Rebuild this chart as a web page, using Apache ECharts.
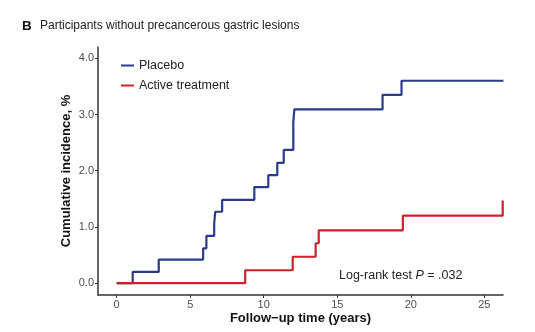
<!DOCTYPE html>
<html>
<head>
<meta charset="utf-8">
<script src="https://cdn.jsdelivr.net/npm/echarts@6/dist/echarts.min.js"></script>
<style>
html,body{margin:0;padding:0;background:#fff;}
#c{width:535px;height:332px;}
</style>
</head>
<body>
<div id="c"></div>
<script>
const seriesNames = ["Placebo", "Active treatment"];
const placeboTimes  = [0, 1.09, 2.86, 5.88, 6.10, 6.63, 6.70, 7.17, 9.36, 10.31, 10.92, 11.36, 12.01, 12.08, 18.08, 19.37, 26.30];
const placeboValues = [0, 0.20, 0.42, 0.62, 0.84, 1.06, 1.27, 1.48, 1.71, 1.92, 2.14, 2.37, 2.86, 3.09, 3.35, 3.60, 3.60];
const activeTimes   = [0, 8.74, 11.97, 13.53, 13.74, 19.46, 26.25, 26.25];
const activeValues  = [0, 0.23, 0.47, 0.71, 0.94, 1.20, 1.20, 1.47];
const xTicks = [0, 5, 10, 15, 20, 25];
const yTicks = [0, 1, 2, 3, 4];
const panelTitleLetter = "B";
const panelTitle = "Participants without precancerous gastric lesions";
const xTitle = "Follow\u2212up time (years)";
const yTitle = "Cumulative incidence, %";

const FONT = "Liberation Sans, Arial, sans-serif";
const chart = echarts.init(document.getElementById('c'), null, {renderer: 'canvas'});

function pairs(xs, ys) { return xs.map((x, i) => [x, ys[i]]); }

const axisColor = '#333333';
chart.setOption({
  animation: false,
  textStyle: {fontFamily: FONT},
  title: {
    left: 22, top: 19, padding: 0,
    text: '{b|' + panelTitleLetter + '}{t|' + panelTitle + '}',
    textStyle: {
      fontWeight: 'normal',
      rich: {
        b: {fontSize: 13.5, fontWeight: 'bold', color: '#111', fontFamily: FONT, width: 18},
        t: {fontSize: 12, fontWeight: 'normal', color: '#222', fontFamily: FONT}
      }
    }
  },
  legend: {
    orient: 'vertical',
    left: 116, top: 54,
    icon: 'rect',
    itemWidth: 13, itemHeight: 2,
    itemGap: 7,
    textStyle: {fontSize: 12.5, color: '#222', fontFamily: FONT},
    data: seriesNames
  },
  grid: {left: 98, right: 32, top: 47, bottom: 37, containLabel: false},
  xAxis: {
    type: 'value',
    min: -1.27, max: 26.27,
    name: xTitle,
    nameLocation: 'middle',
    nameGap: 17,
    nameMoveOverlap: false,
    nameTextStyle: {fontSize: 13, fontWeight: 'bold', color: '#111', fontFamily: FONT},
    splitLine: {show: false},
    axisLine: {show: true, onZero: false, lineStyle: {color: axisColor, width: 1.5}},
    axisTick: {show: true, length: 3, lineStyle: {color: axisColor}, customValues: xTicks},
    axisLabel: {fontSize: 11, color: '#4d4d4d', margin: 4, customValues: xTicks, formatter: v => String(v)}
  },
  yAxis: {
    type: 'value',
    min: -0.21, max: 4.2,
    name: yTitle,
    nameLocation: 'middle',
    nameGap: 25,
    nameMoveOverlap: false,
    nameTextStyle: {fontSize: 13, fontWeight: 'bold', color: '#111', fontFamily: FONT},
    splitLine: {show: false},
    axisLine: {show: true, onZero: false, lineStyle: {color: axisColor, width: 1.5}},
    axisTick: {show: true, length: 3, lineStyle: {color: axisColor}, customValues: yTicks},
    axisLabel: {fontSize: 11, color: '#4d4d4d', margin: 4, customValues: yTicks, formatter: v => v.toFixed(1)}
  },
  graphic: [{
    type: 'text',
    left: 339, top: 269,
    style: {
      text: 'Log-rank test {i|P} = .032',
      fontSize: 12.5, fill: '#222', fontFamily: FONT,
      rich: {i: {fontStyle: 'italic', fontSize: 12.5, fill: '#222', fontFamily: FONT}}
    }
  }],
  series: [
    {
      name: seriesNames[0], type: 'line', step: 'end', showSymbol: false, symbol: 'none',
      data: pairs(placeboTimes, placeboValues),
      lineStyle: {color: '#2b3b8c', width: 2.2}, itemStyle: {color: '#2b3b8c'}, z: 2
    },
    {
      name: seriesNames[1], type: 'line', step: 'end', showSymbol: false, symbol: 'none',
      data: pairs(activeTimes, activeValues),
      lineStyle: {color: '#cc2229', width: 2.2}, itemStyle: {color: '#cc2229'}, z: 3
    }
  ]
});
</script>
</body>
</html>
